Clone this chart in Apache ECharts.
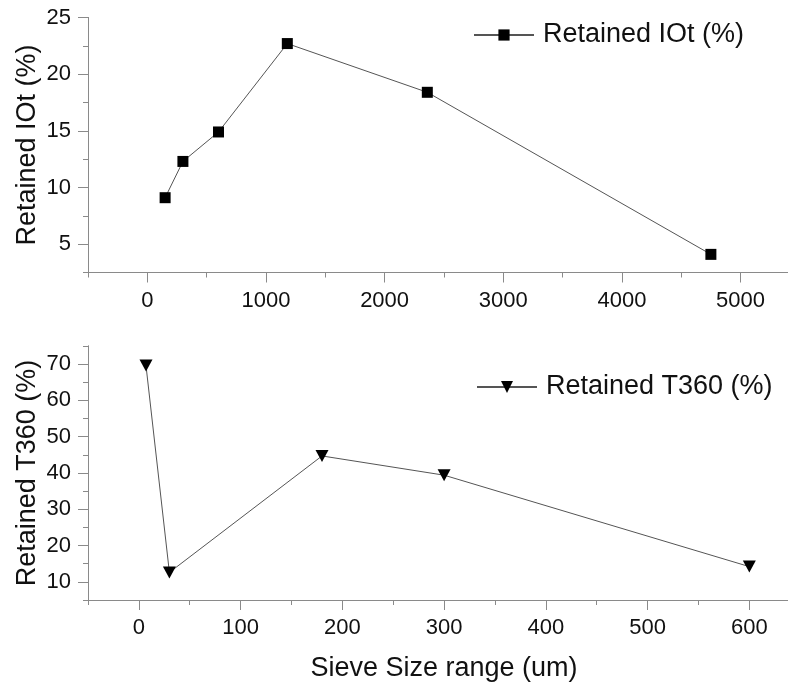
<!DOCTYPE html>
<html>
<head>
<meta charset="utf-8">
<title>Retained vs sieve size</title>
<script src="https://cdn.jsdelivr.net/npm/echarts@6/dist/echarts.min.js"></script>
<style>
  html, body { margin: 0; padding: 0; background: #fff; }
  #chart { width: 788px; height: 683px; }
</style>
</head>
<body>
<div id="chart"></div>
<script>
// ---------------------------------------------------------------------------
// Data
// ---------------------------------------------------------------------------

// top panel – IOt
const sieveIOt    = [150, 300, 600, 1180, 2360, 4750]
const retainedIOt = [9.1, 12.3, 14.9, 22.7, 18.4, 4.1]

// bottom panel – T360
const sieveT360    = [7, 30, 180, 300, 600]
const retainedT360 = [69.6, 12.6, 44.7, 39.4, 14.2]

// labelled (major) tick values
const topXTicks    = [0, 1000, 2000, 3000, 4000, 5000]
const topYTicks    = [5, 10, 15, 20, 25]
const bottomXTicks = [0, 100, 200, 300, 400, 500, 600]
const bottomYTicks = [10, 20, 30, 40, 50, 60, 70]

// ---------------------------------------------------------------------------
// Styling helpers
// ---------------------------------------------------------------------------
const FONT = '"Liberation Sans", Arial, sans-serif'
const AXIS_COLOR = '#8a8a8a'
const LINE_COLOR = '#555'

const pairs = (xs, ys) => xs.map((x, i) => [x, ys[i]])

/** Axis carrying the line and the minor (short) ticks. */
function minorAxis(gridIndex, position, min, max, interval) {
  return {
    type: 'value', gridIndex, position, min, max, interval,
    axisLine: { show: true, onZero: false, lineStyle: { color: AXIS_COLOR, width: 1 } },
    axisTick: { show: true, inside: false, length: 5, lineStyle: { color: AXIS_COLOR } },
    axisLabel: { show: false },
    splitLine: { show: false },
  }
}

/** Overlay axis with the long ticks, labels and the axis title. */
function majorAxis(gridIndex, position, min, max, ticks, name, nameGap) {
  return {
    type: 'value', gridIndex, position, min, max,
    name, nameLocation: 'middle', nameGap, nameMoveOverlap: false,
    nameTextStyle: { fontFamily: FONT, fontSize: 27, color: '#111' },
    axisLine: { show: true, onZero: false, lineStyle: { color: AXIS_COLOR, width: 1 } },
    axisTick: { show: true, inside: false, length: 10, customValues: ticks, lineStyle: { color: AXIS_COLOR } },
    axisLabel: {
      show: true, customValues: ticks, margin: 17,
      formatter: (v) => String(v),
      fontFamily: FONT, fontSize: 22, color: '#111',
    },
    splitLine: { show: false },
  }
}

const chart = echarts.init(document.getElementById('chart'), null, { renderer: 'canvas' })

const legendText = { fontFamily: FONT, fontSize: 27, color: '#111', lineHeight: 30, padding: [0, 0, 0, 4] }

chart.setOption({
  animation: false,
  backgroundColor: '#fff',
  grid: [
    { left: 88, top: 17.5, width: 700, height: 255, containLabel: false },
    { left: 88, top: 346, width: 700, height: 255, containLabel: false },
  ],
  xAxis: [
    minorAxis(0, 'bottom', -500, 5400, 500),
    majorAxis(0, 'bottom', -500, 5400, topXTicks, '', 0),
    minorAxis(1, 'bottom', -50, 638, 50),
    Object.assign(majorAxis(1, 'bottom', -50, 638, bottomXTicks, 'Sieve Size range (um)', 55), {
      nameTextStyle: { fontFamily: FONT, fontSize: 27, color: '#111', padding: [0, 0, 0, 12] },
    }),
  ],
  yAxis: [
    minorAxis(0, 'left', 2.5, 25, 2.5),
    majorAxis(0, 'left', 2.5, 25, topYTicks, 'Retained IOt (%)', 47),
    minorAxis(1, 'left', 5, 75, 5),
    majorAxis(1, 'left', 5, 75, bottomYTicks, 'Retained T360 (%)', 47),
  ],
  legend: [
    {
      data: ['Retained IOt (%)'],
      left: 473, top: 20, padding: 0,
      itemWidth: 60, itemHeight: 14, itemGap: 0,
      textStyle: legendText,
    },
    {
      data: ['Retained T360 (%)'],
      left: 476, top: 372, padding: 0,
      itemWidth: 60, itemHeight: 15, itemGap: 0,
      textStyle: legendText,
    },
  ],
  series: [
    {
      name: 'Retained IOt (%)',
      type: 'line',
      xAxisIndex: 0, yAxisIndex: 0,
      data: pairs(sieveIOt, retainedIOt),
      symbol: 'rect', symbolSize: 11,
      itemStyle: { color: '#000' },
      lineStyle: { color: LINE_COLOR, width: 1 },
    },
    {
      name: 'Retained T360 (%)',
      type: 'line',
      xAxisIndex: 2, yAxisIndex: 2,
      data: pairs(sieveT360, retainedT360),
      symbol: 'triangle', symbolSize: [13, 12], symbolRotate: 180,
      itemStyle: { color: '#000' },
      lineStyle: { color: LINE_COLOR, width: 1 },
    },
  ],
})
</script>
</body>
</html>
